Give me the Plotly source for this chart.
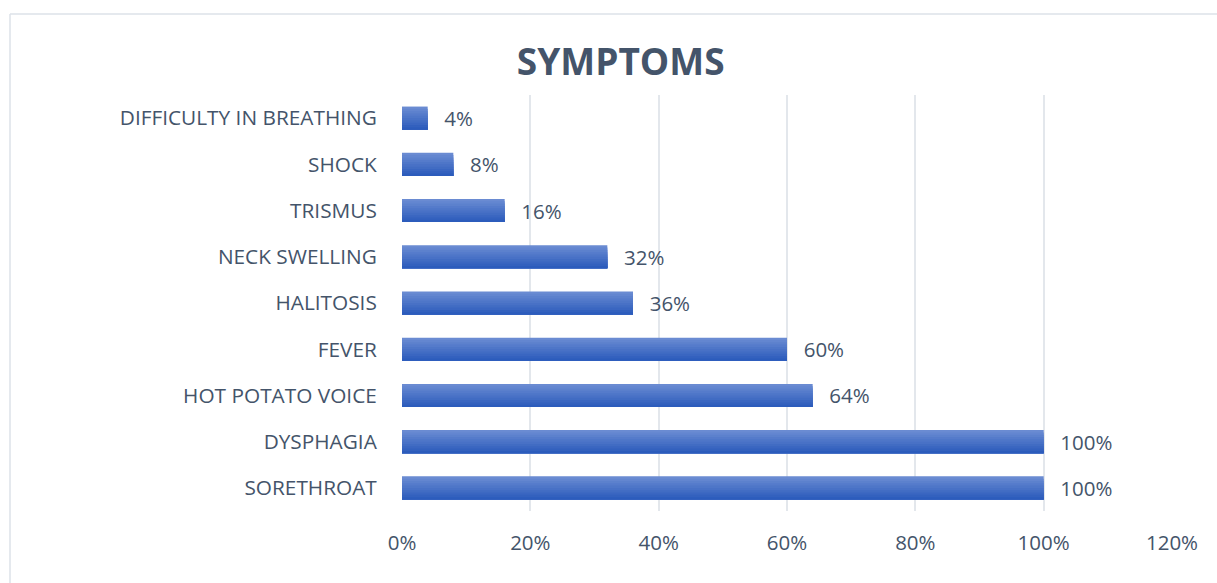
import plotly.graph_objects as go

categories = ["SORETHROAT", "DYSPHAGIA", "HOT POTATO VOICE", "FEVER", "HALITOSIS",
              "NECK SWELLING", "TRISMUS", "SHOCK", "DIFFICULTY IN BREATHING"]
values = [100, 100, 64, 60, 36, 32, 16, 8, 4]
x_ticks = [0, 20, 40, 60, 80, 100, 120]
x_tick_labels = ["0%", "20%", "40%", "60%", "80%", "100%", "120%"]

TEXT = "#44546A"
FONT = "Open Sans"
top_rgb = (106, 139, 210)
bot_rgb = (44, 92, 188)
N = 10
bw = 0.5

fig = go.Figure()
for k in range(N):
    t = k / (N - 1)
    c = tuple(round(top_rgb[i] + (bot_rgb[i] - top_rgb[i]) * t) for i in range(3))
    w = bw * (1 - k / N)
    fig.add_trace(go.Bar(
        y=categories, x=values, orientation="h",
        width=w, offset=-bw / 2,
        marker=dict(color="rgb(%d,%d,%d)" % c, line=dict(width=0)),
        text=[f"\u2002\u2009{v}%" for v in values] if k == 0 else None,
        textposition="outside" if k == 0 else "none",
        constraintext="none",
        textfont=dict(family=FONT, size=20.5, color=TEXT),
        cliponaxis=False, hoverinfo="skip", showlegend=False,
    ))

PW, PH = 770, 416
bx = (10 - 402) / PW
by = 1 + (95 - 14) / PH

fig.update_layout(
    barmode="overlay",
    width=1217, height=583,
    margin=dict(l=402, r=45, t=95, b=72),
    paper_bgcolor="white", plot_bgcolor="white",
    font=dict(family=FONT, color=TEXT),
    title=dict(text="<b>SYMPTOMS</b>", x=0.51, xanchor="center", y=0.893, yanchor="middle",
               font=dict(family=FONT, size=37, color=TEXT)),
    xaxis=dict(range=[0, 120], tickvals=x_ticks, ticktext=x_tick_labels,
               showgrid=True, gridcolor="#E3E7EC", gridwidth=1.5, zeroline=False,
               showline=False, ticks="outside", ticklen=13, tickcolor="rgba(0,0,0,0)",
               tickfont=dict(family=FONT, size=20.5, color=TEXT)),
    yaxis=dict(showgrid=False, zeroline=False, showline=False,
               ticks="outside", ticklen=20, tickcolor="rgba(0,0,0,0)",
               tickfont=dict(family=FONT, size=20.8, color=TEXT)),
)
fig.add_shape(type="line", xref="paper", yref="paper", x0=bx, x1=bx,
              y0=-0.3, y1=by, line=dict(color="#DDE2E8", width=1.5))
fig.add_shape(type="line", xref="paper", yref="paper", x0=bx, x1=1.2,
              y0=by, y1=by, line=dict(color="#DDE2E8", width=1.5))
fig.write_html("out.html", config={"displayModeBar": False},
               post_script="document.body.style.margin='0';document.body.style.overflow='hidden';")
